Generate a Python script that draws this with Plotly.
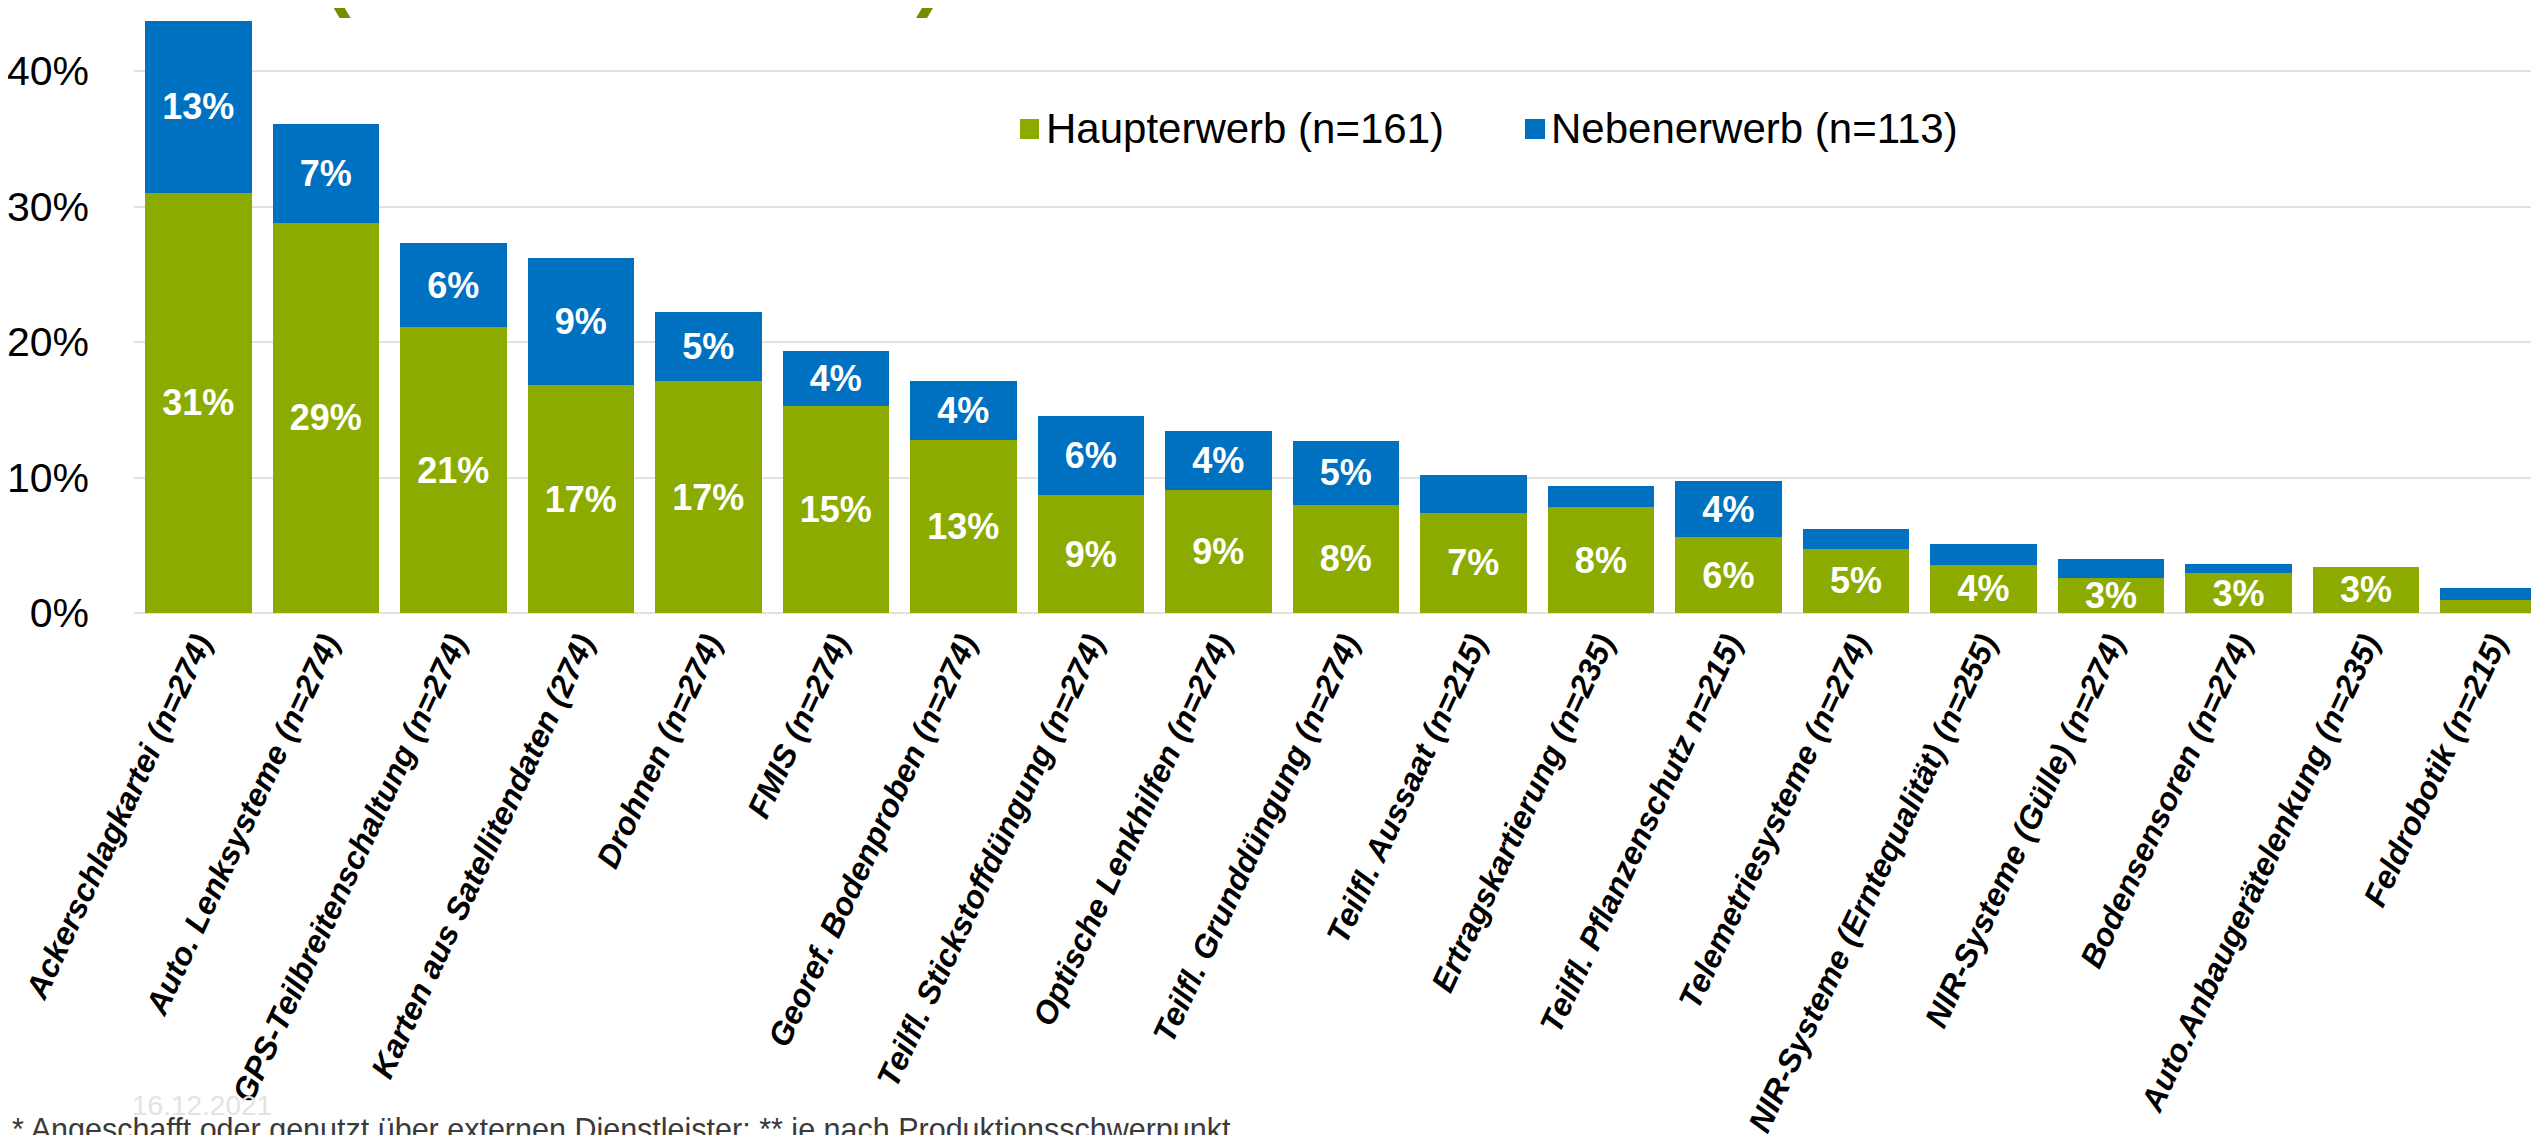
import plotly.graph_objects as go

# ---------------- data ----------------
categories = [
    "Ackerschlagkartei (n=274)",
    "Auto. Lenksysteme (n=274)",
    "GPS-Teilbreitenschaltung (n=274)",
    "Karten aus Satellitendaten (274)",
    "Drohnen (n=274)",
    "FMIS (n=274)",
    "Georef. Bodenproben (n=274)",
    "Teilfl. Stickstoffdüngung (n=274)",
    "Optische Lenkhilfen (n=274)",
    "Teilfl. Grunddüngung (n=274)",
    "Teilfl. Aussaat (n=215)",
    "Ertragskartierung (n=235)",
    "Teilfl. Pflanzenschutz n=215)",
    "Telemetriesysteme (n=274)",
    "NIR-Systeme (Erntequalität) (n=255)",
    "NIR-Systeme (Gülle) (n=274)",
    "Bodensensoren (n=274)",
    "Auto.Anbaugerätelenkung (n=235)",
    "Feldrobotik (n=215)",
]
haupterwerb = [31.0, 28.8, 21.1, 16.8, 17.1, 15.3, 12.75, 8.7, 9.1, 8.0,
               7.4, 7.8, 5.6, 4.75, 3.55, 2.55, 2.95, 3.4, 0.95]
nebenerwerb = [12.7, 7.3, 6.2, 9.4, 5.1, 4.0, 4.35, 5.85, 4.35, 4.7,
               2.75, 1.6, 4.15, 1.45, 1.55, 1.45, 0.7, 0.0, 0.9]
haupt_label_shown = [True] * 18 + [False]
neben_label_shown = [True] * 10 + [False, False, True] + [False] * 6
series_names = ["Haupterwerb (n=161)", "Nebenerwerb (n=113)"]
y_tick_values = [0, 10, 20, 30, 40]
y_tick_text = ["0%", "10%", "20%", "30%", "40%"]
footnote = "* Angeschafft oder genutzt über externen Dienstleister; ** je nach Produktionsschwerpunkt"
date_text = "16.12.2021"

# ---------------- style ----------------
FONT = "Liberation Sans, Arial, sans-serif"
GREEN = "#8CAB00"
BLUE = "#0070C0"
GRID = "#E6E1DA"
W, H = 2539, 1135
ML, MR, MT, MB = 126, 0, 0, 530
PW, PH = W - ML - MR, H - MT - MB


def px_x(px):
    return (px - ML) / PW


def px_y(py):
    return (H - MB - py) / PH


def labels(vals, shown):
    return [f"{round(v)}%" if s else "" for v, s in zip(vals, shown)]


fig = go.Figure()
fig.add_trace(go.Bar(
    x=categories, y=haupterwerb, name=series_names[0],
    marker=dict(color=GREEN, line=dict(width=0)),
    text=labels(haupterwerb, haupt_label_shown), texttemplate="%{text}",
    textposition="inside", insidetextanchor="middle", constraintext="none",
    textangle=0,
    insidetextfont=dict(family=FONT, size=36, color="white", weight="bold"),
    showlegend=False, cliponaxis=False,
))
fig.add_trace(go.Bar(
    x=categories, y=nebenerwerb, name=series_names[1],
    marker=dict(color=BLUE, line=dict(width=0)),
    text=labels(nebenerwerb, neben_label_shown), texttemplate="%{text}",
    textposition="inside", insidetextanchor="middle", constraintext="none",
    textangle=0,
    insidetextfont=dict(family=FONT, size=36, color="white", weight="bold"),
    showlegend=False, cliponaxis=False,
))

fig.update_layout(
    width=W, height=H,
    margin=dict(l=ML, r=MR, t=MT, b=MB, autoexpand=False),
    paper_bgcolor="white", plot_bgcolor="white",
    barmode="stack", bargap=0.165,
    font=dict(family=FONT, color="black"),
    showlegend=False,
    xaxis=dict(
        type="category", range=[-0.504, 18.42],
        tickangle=-65, showgrid=False, zeroline=False, showline=False,
        ticks="", automargin=False, ticklabelstandoff=4,
        tickfont=dict(family=FONT, size=32, color="black",
                      weight="bold", style="italic"),
    ),
    yaxis=dict(
        range=[0, 44.65], tickmode="array",
        tickvals=y_tick_values, ticktext=y_tick_text,
        showgrid=True, gridcolor=GRID, gridwidth=2,
        zeroline=True, zerolinecolor=GRID, zerolinewidth=2,
        showline=False, ticks="", automargin=False,
        ticklabelstandoff=44,
        tickfont=dict(family=FONT, size=41, color="black"),
    ),
)

# manual legend
legend_items = [
    (1012, 1031, 1036, GREEN, series_names[0]),
    (1517, 1537, 1541, BLUE, series_names[1]),
]
for x0, x1, xt, col, name in legend_items:
    fig.add_shape(type="rect", xref="paper", yref="paper",
                  x0=px_x(x0), x1=px_x(x1), y0=px_y(131), y1=px_y(111),
                  fillcolor=col, line=dict(width=0))
    fig.add_annotation(xref="paper", yref="paper", x=px_x(xt), y=px_y(121),
                       xanchor="left", yanchor="middle", showarrow=False,
                       text=name, font=dict(family=FONT, size=42, color="black"))

# title remnants (cut off at top edge)
for xt, ch in [(314, "("), (906, ")")]:
    fig.add_annotation(xref="paper", yref="paper", x=px_x(xt), y=px_y(12),
                       xanchor="left", yanchor="bottom", showarrow=False,
                       text=ch, font=dict(family=FONT, size=80, color="#788C00",
                                          weight="bold"))

# faint date
fig.add_annotation(xref="paper", yref="paper", x=px_x(122), y=px_y(1080),
                   xanchor="left", yanchor="top", showarrow=False,
                   text=date_text, font=dict(family=FONT, size=28, color="#E3E3E3"))

# footnote
fig.add_annotation(xref="paper", yref="paper", x=px_x(2), y=px_y(1102),
                   xanchor="left", yanchor="top", showarrow=False,
                   text=footnote, font=dict(family=FONT, size=30.5, color="#3A3A3A"))

fig.write_html("out.html")
